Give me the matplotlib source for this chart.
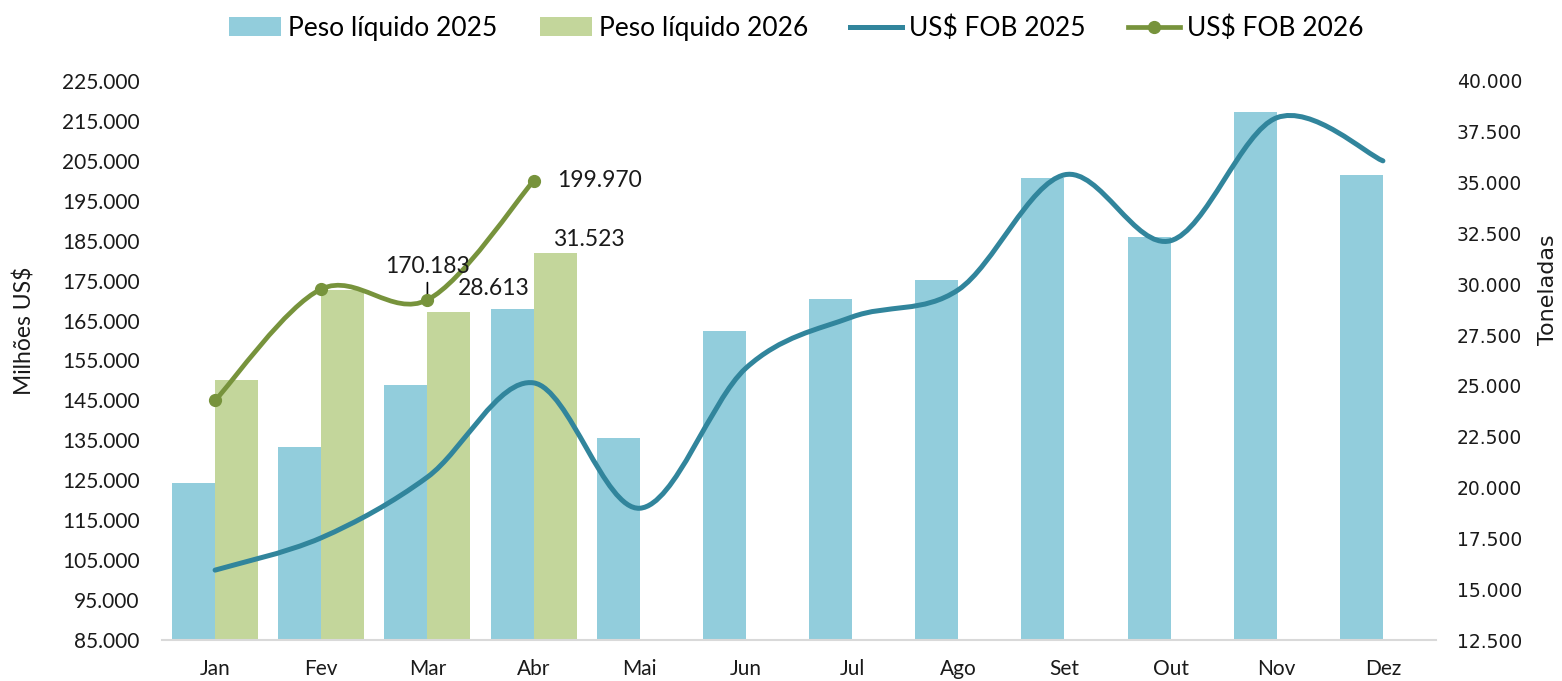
import matplotlib
matplotlib.use("Agg")
import matplotlib.pyplot as plt
from matplotlib.path import Path
from matplotlib.patches import PathPatch, Patch
from matplotlib.lines import Line2D
from matplotlib.ticker import FuncFormatter
import numpy as np

months = ["Jan", "Fev", "Mar", "Abr", "Mai", "Jun", "Jul", "Ago", "Set", "Out", "Nov", "Dez"]
peso_2025 = [20230, 22000, 25050, 28790, 22440, 27700, 29280, 30210, 35250, 32330, 38480, 35380]
peso_2026 = [25290, 29720, 28613, 31523]
fob_2025 = [102500, 110600, 125800, 149400, 118000, 153100, 165900, 172700, 201500, 185000, 215800, 205000]
fob_2026 = [145000, 172900, 170183, 199970]

left_ticks = list(range(85000, 225001, 10000))
right_ticks = list(range(12500, 40001, 2500))

C_BAR25 = "#92CDDC"
C_BAR26 = "#C3D69B"
C_LINE25 = "#31859C"
C_LINE26 = "#77933C"

FONT = "Lato"


def fmt(v, pos=None):
    return f"{v:,.0f}".replace(",", ".")


def smooth_path(xs, ys):
    pts = np.column_stack([xs, ys]).astype(float)
    n = len(pts)
    verts = [pts[0]]
    codes = [Path.MOVETO]
    for i in range(n - 1):
        p0 = pts[i - 1] if i > 0 else pts[i]
        p1 = pts[i]
        p2 = pts[i + 1]
        p3 = pts[i + 2] if i + 2 < n else pts[i + 1]
        c1 = p1 + (p2 - p0) / 6.0
        c2 = p2 - (p3 - p1) / 6.0
        verts += [c1, c2, p2]
        codes += [Path.CURVE4] * 3
    return Path(verts, codes)


W, H = 1562, 681
fig = plt.figure(figsize=(W / 100, H / 100), dpi=100)
left, right, bottom, top = 162 / W, 1436 / W, 1 - 640 / H, 1 - 81 / H
ax = fig.add_axes([left, bottom, right - left, top - bottom])
ax2 = ax.twinx()

x = np.arange(len(months))
bw = 0.405
ax2.bar(x - 0.2025, peso_2025, width=bw, color=C_BAR25, zorder=2)
ax2.bar(x[:len(peso_2026)] + 0.2025, peso_2026, width=bw, color=C_BAR26, zorder=2)

ax.set_zorder(ax2.get_zorder() + 1)
ax.patch.set_visible(False)

ax.add_patch(PathPatch(smooth_path(x, fob_2025), fill=False, edgecolor=C_LINE25,
                       lw=3.6, capstyle="round", joinstyle="round", zorder=3))
x26 = x[:len(fob_2026)]
ax.add_patch(PathPatch(smooth_path(x26, fob_2026), fill=False, edgecolor=C_LINE26,
                       lw=3.4, capstyle="round", joinstyle="round", zorder=3))
ax.plot(x26, fob_2026, linestyle="none", marker="o", markersize=8.5,
        color=C_LINE26, zorder=4)

ax.set_xlim(-0.5, len(months) - 0.5)
ax.set_ylim(left_ticks[0], left_ticks[-1])
ax.set_yticks(left_ticks)
ax.yaxis.set_major_formatter(FuncFormatter(fmt))
ax2.set_ylim(right_ticks[0], right_ticks[-1])
ax2.set_yticks(right_ticks)
ax2.yaxis.set_major_formatter(FuncFormatter(fmt))

ax.set_xticks(x)
ax.set_xticklabels(months, fontfamily=FONT, fontsize=15)
ax.tick_params(axis="x", length=0, pad=14, colors="#1a1a1a")
ax.tick_params(axis="y", length=0, pad=16, labelsize=15, colors="#1a1a1a")
for lab in ax.get_yticklabels():
    lab.set_fontfamily(FONT)
ax2.tick_params(axis="y", length=0, pad=15, labelsize=13.5, colors="#1a1a1a")
for lab in ax2.get_yticklabels():
    lab.set_fontfamily("DejaVu Sans")

for a in (ax, ax2):
    for s in ("top", "left", "right"):
        a.spines[s].set_visible(False)
ax2.spines["bottom"].set_visible(False)
ax.spines["bottom"].set_color("#D9D9D9")
ax.spines["bottom"].set_linewidth(1.5)

fig.text(24 / W, 1 - 331 / H, "Milhões US$", rotation=90, ha="center", va="center",
         fontfamily=FONT, fontsize=16.5, color="#1a1a1a")
fig.text(1548 / W, 1 - 290 / H, "Toneladas", rotation=90, ha="center", va="center",
         fontfamily="DejaVu Sans", fontsize=16, color="#1a1a1a")

# data labels
lab_kw = dict(fontfamily=FONT, fontsize=16.5, color="#1a1a1a")
ax.annotate(fmt(fob_2026[3]), xy=(x26[3], fob_2026[3]), xytext=(17, 0),
            textcoords="offset points", ha="left", va="center", **lab_kw)
ax.annotate(fmt(fob_2026[2]), xy=(x26[2], fob_2026[2]), xytext=(0, 24),
            textcoords="offset points", ha="center", va="center",
            arrowprops=dict(arrowstyle="-", color="black", lw=1.2, shrinkA=2, shrinkB=1.5),
            **lab_kw)
ax2.annotate(fmt(peso_2026[3]), xy=(x26[3] + 0.2025, peso_2026[3]), xytext=(24, 10),
             textcoords="offset points", ha="center", va="center", **lab_kw)
ax2.annotate(fmt(peso_2026[2]), xy=(x26[2] + 0.2025, peso_2026[2]), xytext=(32, 17),
             textcoords="offset points", ha="center", va="center", **lab_kw)

handles = [
    Patch(facecolor=C_BAR25, edgecolor="none"),
    Patch(facecolor=C_BAR26, edgecolor="none"),
    Line2D([], [], color=C_LINE25, lw=3.6),
    Line2D([], [], color=C_LINE26, lw=3.4, marker="o", markersize=8.5),
]
labels = ["Peso líquido 2025", "Peso líquido 2026", "US$ FOB 2025", "US$ FOB 2026"]
fig.legend(handles, labels, loc="center", bbox_to_anchor=(796.5 / W, 1 - 28 / H),
           ncol=4, frameon=False, prop={"family": FONT, "size": 19},
           handlelength=1.97, handletextpad=0.27, columnspacing=1.6)

fig.savefig("out.png", dpi=100)
